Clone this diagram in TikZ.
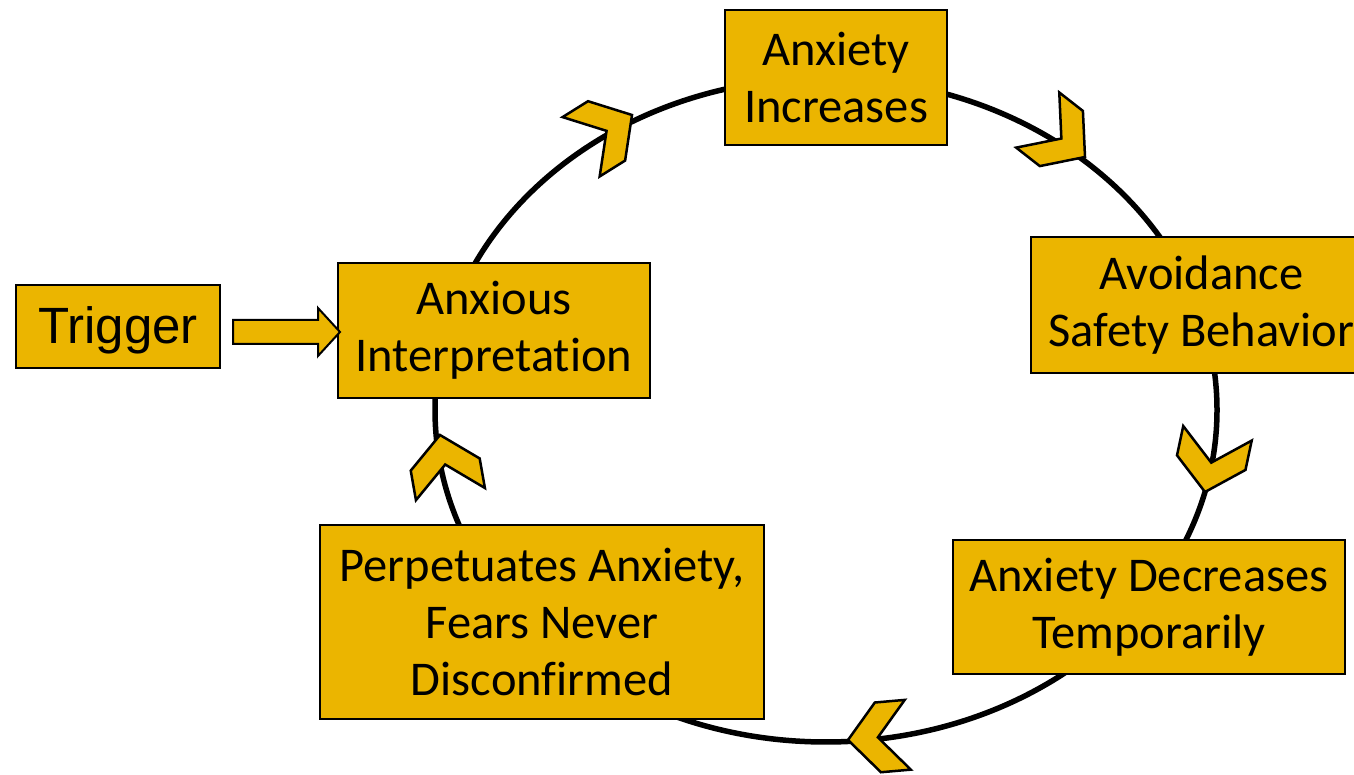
\documentclass[tikz,border=0pt]{standalone}
\usepackage{fontspec}
\setmainfont{Carlito}[Ligatures=NoCommon]
\newfontfamily\arialf{Liberation Sans}
\definecolor{gold}{RGB}{235,181,0}
\begin{document}
\begin{tikzpicture}[x=1pt,y=1pt,
  box/.style={draw=black,line width=2pt,fill=gold,inner sep=0pt,align=center,
    font=\fontsize{48.5}{57}\selectfont},
  chevstyle/.style={draw=black,line width=2.5pt,fill=gold,line join=miter},
  chev/.pic={\path[chevstyle] (0,0) -- (-30,35) -- (-60,35) -- (-30,0) -- (-60,-35) -- (-30,-35) -- cycle;},
  blockarrow/.style={draw=black,line width=2pt,fill=gold,line join=miter}]
\useasboundingbox (0,0) rectangle (1354,775);
\clip (0,0) rectangle (1354,775);
\coordinate (c) at (826,365);
\draw[line width=5.5pt] (c) ellipse [x radius=391, y radius=332];
% boxes
\node[box,minimum width=222,minimum height=135] (ai) at (836,697.5) {Anxiety\\Increases};
\node[box,minimum width=341,minimum height=136] (av) at (1201.5,470) {Avoidance\\Safety Behavior};
\node[box,minimum width=392,minimum height=134] (ad) at (1149,168) {Anxiety Decreases\\Temporarily};
\node[box,minimum width=444,minimum height=194] (pa) at (542,153) {Perpetuates Anxiety,\\Fears Never\\Disconfirmed};
\node[box,minimum width=312,minimum height=135] (an) at (494,444.5) {Anxious\\Interpretation};
\node[box,minimum width=204,minimum height=83] (tr) at (118,448.5) {};
\node[font=\arialf\fontsize{51}{60}\selectfont,inner sep=0pt] (trt) at ([yshift=-4pt]tr.center) {Trigger};
% block arrow trigger -> interpretation
\coordinate (a0) at ([xshift=12pt]tr.east);
\coordinate (a1) at (an.west);
\draw[blockarrow] ([yshift=12pt]a0 |- 0,443) -- (318,455) -- (318,467) -- (340,443) -- (318,419) -- (318,431) -- ([yshift=-12pt]a0 |- 0,443) -- cycle;
% chevrons
\pic[rotate=32] at (632,660) {chev};
\pic[rotate=-38] at (1085,618) {chev};
\pic[rotate=-102] at (1205,283) {chev};
\pic[rotate=185] at (848,35) {chev};
\pic[rotate=100] at (440,340) {chev};
\end{tikzpicture}
\end{document}
